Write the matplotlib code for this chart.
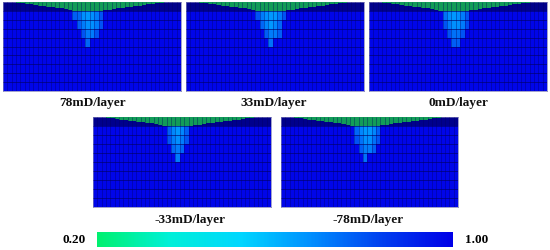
#!/usr/bin/env python3
"""Saturation maps for five permeability gradients, with a shared colour bar."""
import matplotlib
matplotlib.use("Agg")
import matplotlib.pyplot as plt
from matplotlib.colors import LinearSegmentedColormap
import numpy as np

W, H = 550, 251

LABELS = ["78mD/layer", "33mD/layer", "0mD/layer", "-33mD/layer", "-78mD/layer"]
LABEL_POS = [(92.5, 103), (274, 103), (458, 103), (190, 220), (368, 220)]
PANEL_BOXES = [(3, 3, 178, 89), (186, 3, 178, 89), (369, 3, 178, 89),
               (93, 118, 178, 90), (281, 118, 177, 90)]

N_COLS = 41
N_ROWS = 10

# plume cells per panel: for layers 2..5, (first column, saturations)
PLUME_78 = [(16, [0.78, 0.76, 0.68, 0.66, 0.68, 0.72, 0.80]),
            (17, [0.78, 0.72, 0.68, 0.68, 0.72, 0.80]),
            (18, [0.80, 0.72, 0.72, 0.80]),
            (19, [0.76])]
PLUME_33 = [(16, [0.80, 0.72, 0.68, 0.66, 0.66, 0.72, 0.80]),
            (17, [0.76, 0.70, 0.66, 0.70, 0.76]),
            (18, [0.78, 0.72, 0.72, 0.78]),
            (19, [0.74])]
PLUME_0 = [(17, [0.74, 0.68, 0.66, 0.68, 0.72, 0.80]),
           (17, [0.80, 0.72, 0.68, 0.68, 0.72, 0.82]),
           (18, [0.80, 0.74, 0.74, 0.80]),
           (19, [0.78, 0.78])]
PLUME_M33 = [(17, [0.78, 0.70, 0.66, 0.70, 0.78]),
             (17, [0.80, 0.72, 0.68, 0.72, 0.80]),
             (18, [0.76, 0.72, 0.76]),
             (19, [0.72])]
PLUME_M78 = [(17, [0.76, 0.70, 0.66, 0.66, 0.70, 0.78]),
             (17, [0.80, 0.74, 0.68, 0.68, 0.74, 0.80]),
             (18, [0.78, 0.72, 0.72, 0.78]),
             (19, [0.74])]
PLUMES = [PLUME_78, PLUME_33, PLUME_0, PLUME_M33, PLUME_M78]

# wedge depth inside the top layer, as a share of the layer, by column
WEDGE_DEPTH = [0, 0, 0, 0.08, 0.16, 0.22, 0.28, 0.34, 0.40, 0.46, 0.52, 0.58, 0.64, 0.72,
               0.80, 0.90, 1, 1, 1, 1, 1, 1, 1, 0.94, 0.86, 0.78, 0.70, 0.64, 0.58, 0.52,
               0.46, 0.40, 0.34, 0.28, 0.22, 0.16, 0.08, 0, 0, 0, 0]

BACKGROUND_SAT = 0.985
SAT_MIN, SAT_MAX = 0.20, 1.00

cmap = LinearSegmentedColormap.from_list(
    "sat", ["#00f070", "#00f0d8", "#00d8ff", "#0090ff", "#0040f0", "#0000e8"])

plt.rcParams["font.family"] = ["Liberation Serif", "DejaVu Serif"]
fig = plt.figure(figsize=(W / 100, H / 100), dpi=100)


def px_axes(x, y, w, h):
    return fig.add_axes([x / W, 1 - (y + h) / H, w / W, h / H])


def build_grid(plume):
    grid = np.full((N_ROWS, N_COLS), BACKGROUND_SAT)
    for k, (start, values) in enumerate(plume):
        grid[k + 1, start:start + len(values)] = values
    return grid


x_edges = np.arange(N_COLS + 1)
y_edges = np.arange(N_ROWS + 1)

for box, plume in zip(PANEL_BOXES, PLUMES):
    ax = px_axes(*box)
    ax.pcolormesh(x_edges, y_edges, build_grid(plume), cmap=cmap, vmin=SAT_MIN, vmax=SAT_MAX)
    # darker top layer, then the wedge over it
    ax.fill_between([0, N_COLS], 0, 1, color="#00008c", zorder=2, lw=0)
    ax.bar(x_edges[:-1], WEDGE_DEPTH, width=1, align="edge", color="#129c58", zorder=3, lw=0)
    ax.hlines(y_edges[1:-1], 0, N_COLS, color="#000060", lw=0.6, alpha=0.7, zorder=4)
    ax.vlines(x_edges[1:-1], 0, N_ROWS, color="#000060", lw=0.5, alpha=0.5, zorder=4)
    ax.set_xlim(0, N_COLS)
    ax.set_ylim(N_ROWS, 0)
    ax.set_xticks([])
    ax.set_yticks([])
    for spine in ax.spines.values():
        spine.set_color("#7a7ab8")
        spine.set_linewidth(0.5)

for label, (lx, ly) in zip(LABELS, LABEL_POS):
    fig.text(lx / W, 1 - ly / H, label, ha="center", va="center", fontsize=9.5,
             fontweight="bold", color="#111111")

cax = px_axes(97, 233, 356, 15)
cax.imshow(np.linspace(SAT_MIN, SAT_MAX, 356)[None, :], aspect="auto", cmap=cmap,
           vmin=SAT_MIN, vmax=SAT_MAX)
cax.axis("off")
fig.text(74.5 / W, 1 - 240 / H, "0.20", ha="center", va="center", fontsize=9.5, fontweight="bold")
fig.text(477 / W, 1 - 240 / H, "1.00", ha="center", va="center", fontsize=9.5, fontweight="bold")

fig.savefig("out.png", dpi=100)
plt.close(fig)
